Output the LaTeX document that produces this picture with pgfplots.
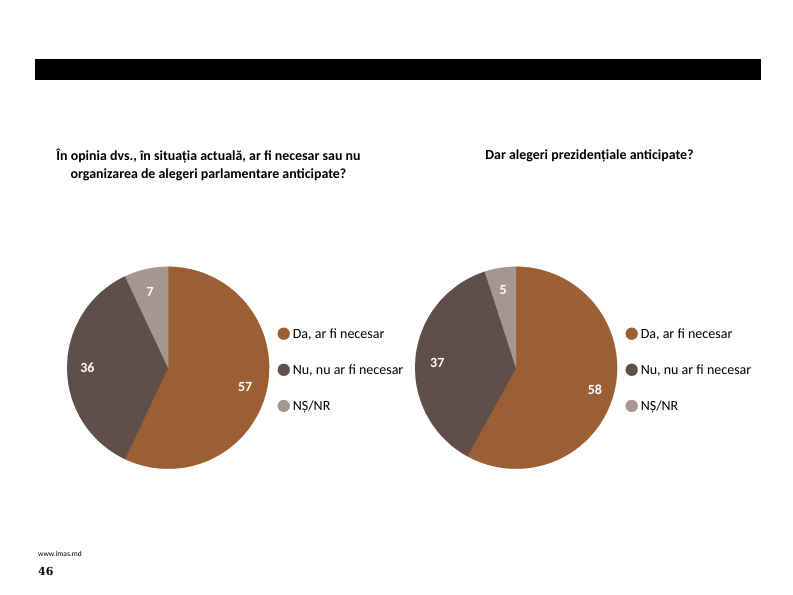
\documentclass[border=0pt]{standalone}
\usepackage{fontspec}
\setmainfont{Carlito}
\newfontfamily\footserif{DejaVu Serif}
\usepackage{pgfplots}
\pgfplotsset{compat=1.18}
\definecolor{cDa}{HTML}{9B5F33}
\definecolor{cNu}{HTML}{5F4F48}
\definecolor{cNS}{HTML}{A6968F}
\pgfplotsset{
  legend image code/.code={\fill[#1] (6bp,1.25bp) circle (6bp);},
  pie/.style={width=202bp, height=202bp, scale only axis,
    xmin=-1, xmax=1, ymin=-1, ymax=1, hide axis, clip=false, anchor=south west,
    legend cell align=left,
    legend style={draw=none, fill=none, at={(axis cs:1.084,-0.03)}, anchor=west,
      inner sep=0pt, outer sep=0pt, row sep=22bp, column sep=0pt,
      font=\fontsize{14bp}{16bp}\selectfont,
      nodes={inner xsep=3bp, inner ysep=0pt, text height=10.5bp, text depth=3bp}},
  },
  slice/.style={fill=#1, draw=#1, line width=0.2bp, samples=100},
}
\newcommand{\pielabel}{\bfseries\fontsize{14bp}{16bp}\selectfont\color{white}}
\begin{document}
\begin{tikzpicture}[x=1bp, y=1bp]
\path (0,0) rectangle (793,595);
\fill[black] (35,515) rectangle (761,536);
\node[font=\bfseries\fontsize{13.9bp}{18bp}\selectfont, align=center] at (208.5,430)
  {În opinia dvs., în situația actuală, ar fi necesar sau nu\\organizarea de alegeri parlamentare anticipate?};
\node[font=\bfseries\fontsize{13.9bp}{18bp}\selectfont, align=center] at (589.5,439)
  {Dar alegeri prezidențiale anticipate?};
\node[anchor=base west, font=\fontsize{7.5bp}{8bp}\selectfont, inner sep=0pt] at (38,38.5) {www.imas.md};
\node[anchor=base west, font=\footserif\bfseries\fontsize{11bp}{12bp}\selectfont, inner sep=0pt] at (38,19) {46};%
%
% Left pie: Da 57, Nu 36, NS/NR 7 (clockwise from top)
\begin{axis}[pie, at={(66.5,125)}]
\addplot[slice=cDa, domain=-115.2:90] ({cos(x)},{sin(x)}) -- (axis cs:0,0) -- cycle;
\addlegendentry{Da, ar fi necesar}
\addplot[slice=cNu, domain=-244.8:-115.2] ({cos(x)},{sin(x)}) -- (axis cs:0,0) -- cycle;
\addlegendentry{Nu, nu ar fi necesar}
\addplot[slice=cNS, domain=90:115.2] ({cos(x)},{sin(x)}) -- (axis cs:0,0) -- cycle;
\addlegendentry{NȘ/NR}
\node[font=\pielabel] at (axis cs:0.762,-0.193) {57};
\node[font=\pielabel] at (axis cs:-0.80,-0.005) {36};
\node[font=\pielabel] at (axis cs:-0.178,0.747) {7};
\end{axis}%
%
% Right pie: Da 58, Nu 37, NS/NR 5
\begin{axis}[pie, at={(411,125)}]
\addplot[slice=cDa, domain=-118.8:90] ({cos(x)},{sin(x)}) -- (axis cs:0,0) -- cycle;
\addlegendentry{Da, ar fi necesar}
\addplot[slice=cNu, domain=-252:-118.8] ({cos(x)},{sin(x)}) -- (axis cs:0,0) -- cycle;
\addlegendentry{Nu, nu ar fi necesar}
\addplot[slice=cNS, domain=90:108] ({cos(x)},{sin(x)}) -- (axis cs:0,0) -- cycle;
\addlegendentry{NȘ/NR}
\node[font=\pielabel] at (axis cs:0.78,-0.215) {58};
\node[font=\pielabel] at (axis cs:-0.78,0.045) {37};
\node[font=\pielabel] at (axis cs:-0.129,0.765) {5};
\end{axis}%
\end{tikzpicture}
\end{document}
